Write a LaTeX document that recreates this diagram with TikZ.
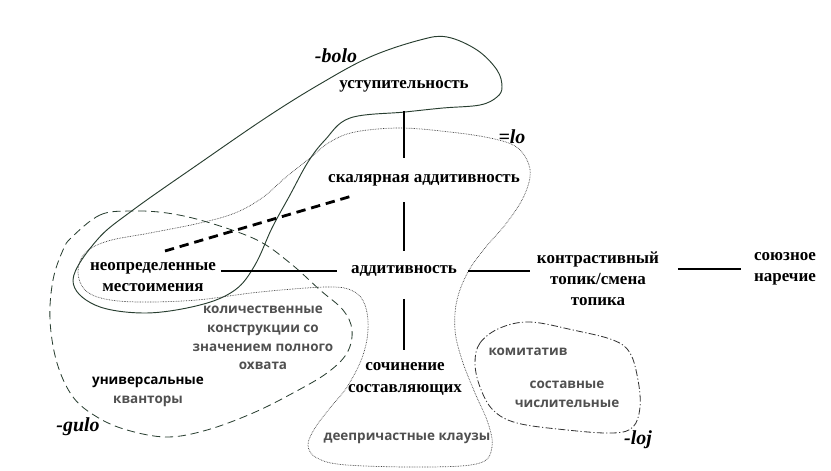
\documentclass[tikz,border=0pt]{standalone}
\usepackage{fontspec}
\setmainfont{Liberation Serif}
\newfontfamily\opensans{Open Sans}
\usepackage{tikz}
\usetikzlibrary{positioning, calc}
\definecolor{curvegreen}{RGB}{40,62,48}
\definecolor{textgray}{RGB}{80,80,80}

\begin{document}
\begin{tikzpicture}[
    x=0.03cm, y=-0.03cm,
    term/.style={font=\fontsize{14.5}{18}\selectfont\bfseries, align=center, inner sep=1pt},
    grayterm/.style={font=\opensans\fontsize{11.5}{16}\selectfont\bfseries,
                     text=textgray, align=center, inner sep=1pt},
    morph/.style={font=\fontsize{17}{19}\selectfont\bfseries\itshape, inner sep=1pt},
    link/.style={line width=2.4pt},
    vaguelink/.style={line width=2.4pt, dash pattern=on 8pt off 5pt},
    bolozone/.style={draw=curvegreen, line width=0.8pt},
    lozone/.style={draw=black!75, line width=0.6pt, dash pattern=on 0.6pt off 0.8pt},
    gulozone/.style={draw=curvegreen, line width=0.7pt, dash pattern=on 7pt off 4pt},
    lojzone/.style={draw=black!80, line width=0.7pt, dash pattern=on 6pt off 2pt on 1pt off 2pt}
]
\useasboundingbox (0,0) rectangle (831,471);

\draw[bolozone] plot[smooth cycle, tension=0.6] coordinates {
  (73,280) (97,240) (133,210) (200,163) (267,117) (320,84) (370,57) (420,40)
  (447,37) (477,50) (497,70) (502,87) (497,97) (480,105) (443,108) (405,112)
  (350,118) (325,140) (308,162) (290,195) (272,228) (255,265) (235,290)
  (200,305) (145,313) (95,305)};
\draw[lozone] plot[smooth cycle, tension=0.6] coordinates {
  (400,128) (450,132) (490,138) (515,146) (527,160) (530,177) (522,200)
  (505,225) (485,248) (468,272) (457,300) (455,330) (462,360) (475,393)
  (488,423) (492,447) (480,463) (430,467) (347,465) (317,458) (308,445)
  (315,428) (330,408) (347,387) (362,358) (368,330) (365,305) (353,291)
  (327,287) (260,292) (197,300) (140,302) (105,299) (85,290) (78,272)
  (85,253) (108,241) (150,233) (200,223) (235,213) (262,198) (285,178)
  (310,158) (330,142) (355,132)};
\draw[gulozone] plot[smooth cycle, tension=0.6] coordinates {
  (72,237) (100,215) (130,211) (167,213) (207,222) (257,240) (290,263)
  (320,290) (343,310) (352,330) (347,353) (327,373) (293,393) (253,413)
  (207,430) (167,437) (127,430) (97,417) (73,397) (57,363) (50,320)
  (53,280) (63,250)};
\draw[lojzone] plot[smooth cycle, tension=0.6] coordinates {
  (475,363) (480,343) (500,328) (530,322) (573,330) (613,340) (630,353)
  (638,380) (640,407) (633,427) (613,433) (567,430) (517,423) (493,410)
  (480,387)};

\node[morph] (bolo) at (336,56) {-bolo};
\node[morph] (lo) at (512,137) {=lo};
\node[morph] (gulo) at (78,427) {-gulo};
\node[morph] (loj) at (638,440) {-loj};

\node[term] (ustup) at (404,86) {уступительность};
\node[term] (skal) at (424,180) {скалярная аддитивность};
\node[term] (addit) at (404,271) {аддитивность};
\node[term] (neopr) at (153,277) {неопределенные\\местоимения};
\node[term] (kontr) at (598,279) {контрастивный\\топик/смена\\топика};
\node[term] (souz) at (785,269) {союзное\\наречие};
\node[term] (sochin) at (405,379) {сочинение\\составляющих};

\node[grayterm] (kolich) at (263,338) {количественные\\конструкции со\\значением полного\\охвата};
\node[grayterm] (univ) at (148,392) {{\color{black}универсальные}\\кванторы};
\node[grayterm] (deepr) at (407,438) {деепричастные клаузы};
\node[grayterm] (komit) at (528,352) {комитатив};
\node[grayterm] (sostav) at (567,394) {составные\\числительные};

\draw[link, shorten <=15pt, shorten >=13pt] (ustup.south) -- (ustup.south |- skal.north);
\draw[link, shorten <=13pt, shorten >=11pt] (addit.north |- skal.south) -- (addit.north);
\draw[link, shorten <=18pt, shorten >=10pt] (addit.south) -- (addit.south |- sochin.north);
\draw[link, shorten <=3pt, shorten >=11pt] (addit.west -| neopr.east) -- (addit.west);
\draw[link, shorten <=8pt, shorten >=5pt] (addit.east) -- (addit.east -| kontr.west);
\draw[link, shorten <=15pt, shorten >=10pt] (souz.west -| kontr.east) -- (souz.west);

\coordinate (vagueA) at (165,251);
\coordinate (vagueB) at (352,196);
\draw[vaguelink] (vagueA) -- (vagueB);
\end{tikzpicture}
\end{document}
